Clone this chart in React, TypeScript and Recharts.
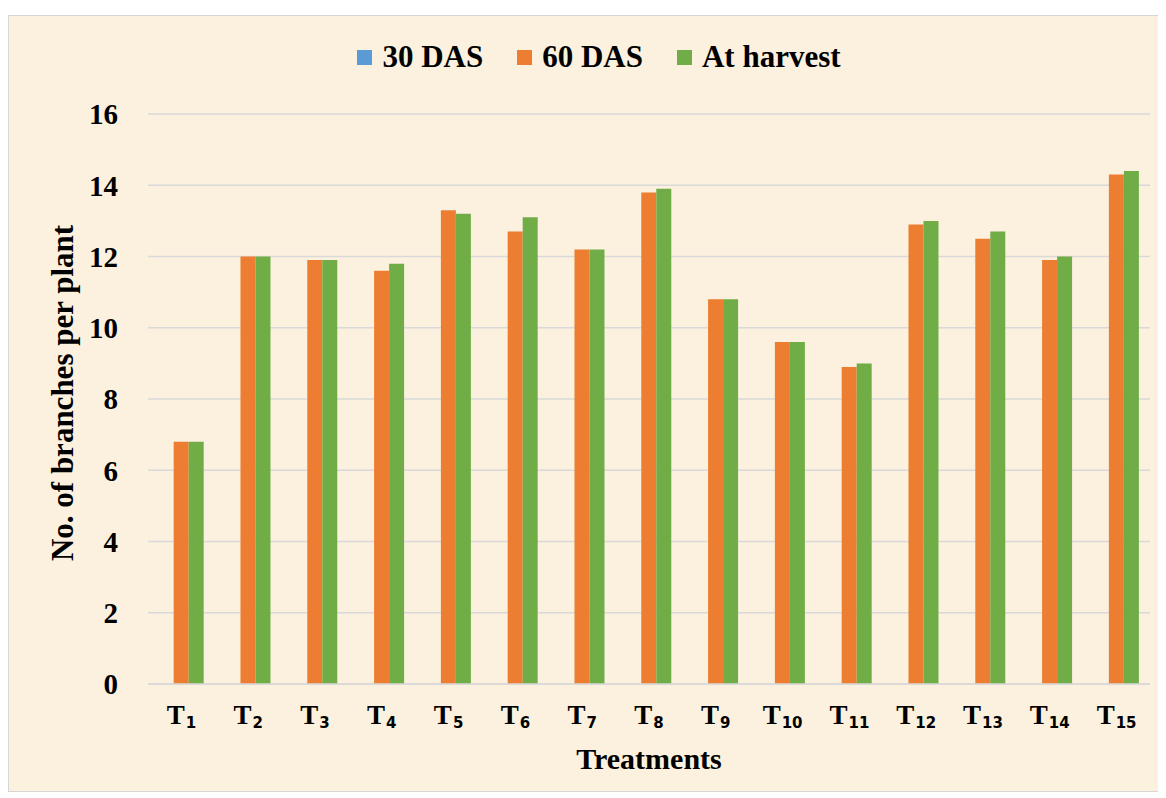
import { BarChart, Bar, XAxis, YAxis, CartesianGrid, Legend } from "recharts";

const treatments = ["T1", "T2", "T3", "T4", "T5", "T6", "T7", "T8", "T9", "T10", "T11", "T12", "T13", "T14", "T15"];
const das30 = [0, 0, 0, 0, 0, 0, 0, 0, 0, 0, 0, 0, 0, 0, 0];
const das60 = [6.8, 12.0, 11.9, 11.6, 13.3, 12.7, 12.2, 13.8, 10.8, 9.6, 8.9, 12.9, 12.5, 11.9, 14.3];
const atHarvest = [6.8, 12.0, 11.9, 11.8, 13.2, 13.1, 12.2, 13.9, 10.8, 9.6, 9.0, 13.0, 12.7, 12.0, 14.4];
const yTicks = [0, 2, 4, 6, 8, 10, 12, 14, 16];

const seriesInfo = [
    { key: "das30", name: "30 DAS", color: "#5B9BD5" },
    { key: "das60", name: "60 DAS", color: "#ED7D31" },
    { key: "harvest", name: "At harvest", color: "#70AD47" },
];

const data = treatments.map((t, i) => ({ name: t, das30: das30[i], das60: das60[i], harvest: atHarvest[i] }));

const serif = "'Liberation Serif', 'Times New Roman', serif";

const TreatmentTick = ({ x, y, payload }: any) => {
    const label: string = payload.value;
    return (
        <text x={x} y={y + 40} textAnchor="middle" fill="#000" fontWeight="bold">
            <tspan fontFamily={serif} fontSize={27}>{label.slice(0, 1)}</tspan>
            <tspan fontFamily="'DejaVu Sans', sans-serif" fontSize={15} dx={1} dy={4}>{label.slice(1)}</tspan>
        </text>
    );
};

const LegendContent = () => (
    <div style={{ display: "flex", justifyContent: "center", paddingLeft: 39, paddingTop: 7, height: 72 }}>
        {seriesInfo.map((s, i) => (
            <div key={s.key} style={{ display: "flex", alignItems: "center", marginRight: i < seriesInfo.length - 1 ? 34 : 0, height: 30 }}>
                <span style={{ display: "inline-block", width: 15, height: 15, background: s.color, marginRight: 10 }} />
                <span style={{ fontFamily: serif, fontWeight: 700, fontSize: 31, color: "#000" }}>{s.name}</span>
            </div>
        ))}
    </div>
);

export default function App() {
    return (
        <div style={{ marginTop: 7, width: 1150, height: 775, border: "1px solid #d6d6d6", background: "#FBF1DE" }}>
            <BarChart width={1150} height={775} data={data} margin={{ top: 19, right: 9, left: 0, bottom: 0 }}
                      barCategoryGap="16%" barGap={0}>
                <CartesianGrid vertical={false} stroke="#d9d9d9" strokeWidth={1.5} />
                <Legend verticalAlign="top" content={<LegendContent />} />
                <XAxis dataKey="name" height={107} axisLine={{ stroke: "#d9d9d9", strokeWidth: 1.5 }} tickLine={false}
                       tickSize={0} tickMargin={0} interval={0} tick={<TreatmentTick />}
                       label={{ content: ({ viewBox }: any) => (
                           <text x={viewBox.x + viewBox.width / 2} y={viewBox.y + 85} textAnchor="middle"
                                 fontFamily={serif} fontWeight="bold" fontSize={30} fill="#000">Treatments</text>
                       ) }} />
                <YAxis width={139} domain={[0, 16]} ticks={yTicks} axisLine={false} tickLine={false}
                       tickSize={0} tickMargin={30}
                       tick={{ fontFamily: serif, fontWeight: "bold", fontSize: 29, fill: "#000" }}
                       label={{ content: ({ viewBox }: any) => {
                           const cy = viewBox.y + viewBox.height / 2 - 6;
                           return (
                               <text x={53} y={cy} transform={`rotate(-90 53 ${cy})`} textAnchor="middle" dominantBaseline="central"
                                     fontFamily={serif} fontWeight="bold" fontSize={31} fill="#000">No. of branches per plant</text>
                           );
                       } }} />
                {seriesInfo.map(s => (
                    <Bar key={s.key} dataKey={s.key} name={s.name} fill={s.color} isAnimationActive={false} />
                ))}
            </BarChart>
        </div>
    );
}
